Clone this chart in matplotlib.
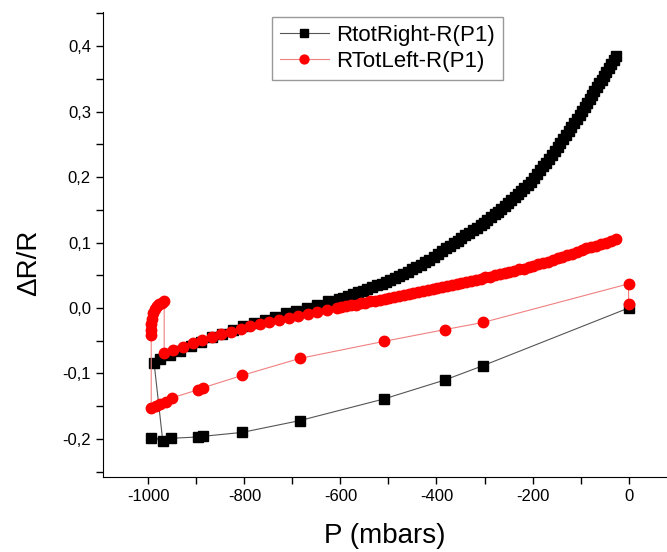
import matplotlib
matplotlib.use("Agg")
import matplotlib.pyplot as plt
import matplotlib.ticker as ticker

plt.rcParams['font.family'] = ['Liberation Sans', 'DejaVu Sans']

# RtotRight-R(P1): sparse pressure sweep, then dense sweep
right_sparse_p = [0, -303, -383, -510, -685, -805, -887, -897, -953, -994, -970]
right_sparse_r = [0.0, -0.088, -0.110, -0.139, -0.172, -0.190, -0.196, -0.197, -0.199, -0.199, -0.203]

right_dense_p = [-988, -975, -955, -934, -912, -890, -868, -846, -824, -802, -780, -758,
                 -736, -714, -692, -670, -648, -626, -604, -594, -584, -574, -564, -554,
                 -544, -534, -524, -514, -505, -496, -487, -478, -469, -460, -451, -442,
                 -433, -424, -415, -406, -397, -388, -380, -372, -364, -356, -348, -340,
                 -332, -324, -316, -308, -301, -294, -286, -279, -272, -265, -258, -251,
                 -244, -237, -230, -223, -217, -210, -204, -197, -191, -184, -178, -172,
                 -166, -160, -154, -148, -142, -136, -130, -124, -119, -113, -108, -102,
                 -97, -91, -86, -81, -76, -71, -66, -61, -56, -51, -46, -41, -36, -31, -26]
right_dense_r = [-0.084, -0.078, -0.071, -0.065, -0.058, -0.052, -0.045, -0.039, -0.033,
                 -0.028, -0.023, -0.018, -0.013, -0.008, -0.004, 0.000, 0.005, 0.010,
                 0.014, 0.016, 0.019, 0.021, 0.024, 0.026, 0.029, 0.032, 0.035, 0.037,
                 0.040, 0.043, 0.046, 0.049, 0.052, 0.055, 0.059, 0.062, 0.066, 0.070,
                 0.074, 0.078, 0.083, 0.087, 0.092, 0.095, 0.099, 0.103, 0.107, 0.111,
                 0.115, 0.119, 0.123, 0.127, 0.130, 0.134, 0.139, 0.143, 0.147, 0.151,
                 0.156, 0.160, 0.165, 0.169, 0.174, 0.179, 0.183, 0.188, 0.193, 0.199,
                 0.205, 0.211, 0.217, 0.222, 0.228, 0.234, 0.240, 0.246, 0.252, 0.258,
                 0.265, 0.271, 0.277, 0.283, 0.289, 0.295, 0.301, 0.307, 0.313, 0.319,
                 0.325, 0.331, 0.337, 0.343, 0.349, 0.355, 0.361, 0.367, 0.373, 0.379, 0.385]

# RTotLeft-R(P1): sparse sweep, small loop near -1000, then dense sweep
left_sparse_p = [0, 0, -303, -383, -510, -685, -805, -887, -897, -950, -963, -975, -984, -994]
left_sparse_r = [0.006, 0.037, -0.022, -0.033, -0.051, -0.077, -0.103, -0.122, -0.125,
                 -0.137, -0.143, -0.147, -0.150, -0.152]

left_loop_p = [-994, -995, -994, -993, -991, -987, -982, -977, -972, -967]
left_loop_r = [-0.041, -0.033, -0.025, -0.016, -0.008, -0.002, 0.003, 0.006, 0.008, 0.010]

left_dense_p = [-967, -948, -928, -908, -888, -868, -848, -828, -808, -788, -768, -748,
                -728, -708, -688, -668, -648, -628, -608, -598, -588, -578, -568, -558,
                -548, -538, -528, -518, -508, -498, -488, -478, -468, -458, -448, -438,
                -428, -418, -408, -398, -388, -378, -368, -358, -348, -338, -328, -318,
                -308, -298, -288, -278, -268, -258, -248, -238, -228, -218, -208, -198,
                -188, -178, -168, -158, -148, -138, -128, -118, -108, -98, -88, -78,
                -68, -58, -48, -37, -26]
left_dense_r = [-0.069, -0.064, -0.059, -0.054, -0.049, -0.045, -0.040, -0.036, -0.032,
                -0.028, -0.025, -0.021, -0.018, -0.015, -0.012, -0.009, -0.006, -0.003,
                0.000, 0.001, 0.003, 0.004, 0.005, 0.007, 0.008, 0.010, 0.011, 0.013,
                0.014, 0.016, 0.017, 0.019, 0.020, 0.022, 0.023, 0.025, 0.026, 0.028,
                0.029, 0.031, 0.032, 0.034, 0.035, 0.037, 0.038, 0.040, 0.042, 0.043,
                0.045, 0.047, 0.048, 0.050, 0.052, 0.053, 0.055, 0.057, 0.059, 0.060,
                0.062, 0.064, 0.067, 0.069, 0.071, 0.073, 0.076, 0.078, 0.081, 0.083,
                0.086, 0.088, 0.091, 0.093, 0.095, 0.098, 0.100, 0.103, 0.105]

right_p = right_sparse_p + right_dense_p
right_r = right_sparse_r + right_dense_r
left_p = left_sparse_p + left_loop_p + left_dense_p
left_r = left_sparse_r + left_loop_r + left_dense_r

fig = plt.figure(figsize=(6.67, 5.52), dpi=100)
ax = fig.add_axes([0.154, 0.136, 0.846, 0.842])

ax.plot(right_p, right_r, color='#555555', lw=0.8, marker='s', ms=6.8,
        mfc='black', mec='black', label='RtotRight-R(P1)')
ax.plot(left_p, left_r, color='#f08080', lw=0.8, marker='o', ms=7.5,
        mfc='red', mec='red', label='RTotLeft-R(P1)')

ax.set_xlim(-1095, 80)
ax.set_ylim(-0.258, 0.452)

ax.xaxis.set_major_locator(ticker.MultipleLocator(200))
ax.xaxis.set_minor_locator(ticker.MultipleLocator(100))
ax.yaxis.set_major_locator(ticker.MultipleLocator(0.1))
ax.yaxis.set_minor_locator(ticker.MultipleLocator(0.05))
ax.xaxis.set_major_formatter(ticker.FuncFormatter(lambda v, p: '%d' % round(v)))
ax.yaxis.set_major_formatter(ticker.FuncFormatter(lambda v, p: ('%.1f' % v).replace('.', ',').replace('-0,0', '0,0')))

ax.tick_params(which='both', direction='out', labelsize=12, width=1, length=5)

ax.spines['top'].set_visible(False)
ax.spines['right'].set_visible(False)

ax.set_xlabel('P (mbars)', fontsize=20)
ax.set_ylabel('ΔR/R', fontsize=20)
ax.xaxis.set_label_coords(0.5, -0.1)
ax.yaxis.set_label_coords(-0.108, 0.46)

leg = ax.legend(loc='upper left', bbox_to_anchor=(0.30, 0.99), fontsize=16,
                fancybox=False, edgecolor='#999999', handlelength=2.2,
                handletextpad=0.35, labelspacing=0.25, borderpad=0.35,
                borderaxespad=0, framealpha=1, markerscale=0.85)

plt.savefig('out.png', dpi=100)
